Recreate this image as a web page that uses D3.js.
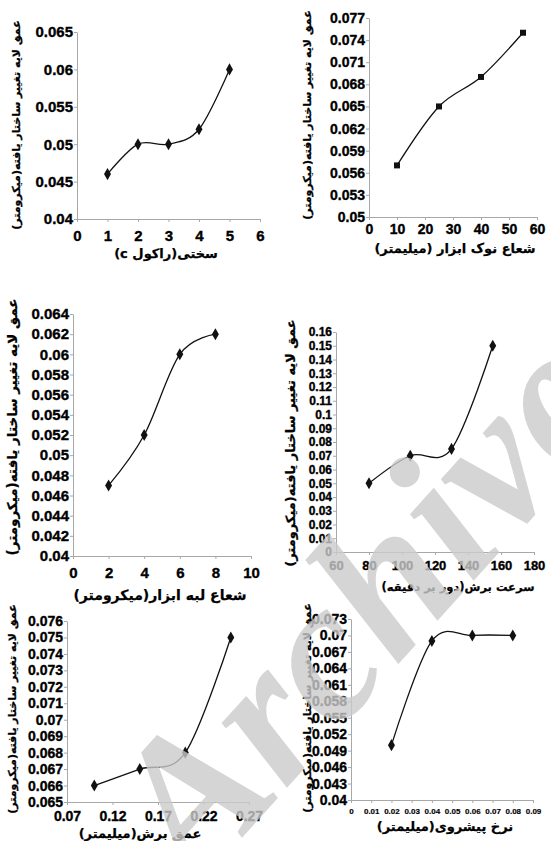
<!DOCTYPE html>
<html>
<head>
<meta charset="utf-8">
<script src="https://cdn.jsdelivr.net/npm/d3@7"></script>
<style>
  body { margin: 0; background: #fff; }
  svg { display: block; }
  .tick text { font-family: "Liberation Sans", Arial, sans-serif; font-weight: bold; fill: #000; stroke: #000; stroke-width: 0.35px; }
  .domain, .tick line { stroke: #a8a8a8; }
  .ttl { font-family: "DejaVu Sans", sans-serif; font-weight: bold; fill: #000; stroke: #000; stroke-width: 0.25px; }
</style>
</head>
<body>
<svg width="551" height="841"></svg>
<script>
// shared y title
const yTitle = "عمق لایه تغییر ساختار یافته(میکرومتر)"

// 1 - hardness
const hardness = [1, 2, 3, 4, 5]
const depthByHardness = [0.046, 0.05, 0.05, 0.052, 0.06]
const xTicks1 = [0, 1, 2, 3, 4, 5, 6]
const yTicks1 = [0.04, 0.045, 0.05, 0.055, 0.06, 0.065]

// 2 - tool nose radius
const noseRadius = [10, 25, 40, 55]
const depthByNose = [0.057, 0.065, 0.069, 0.075]
const xTicks2 = [0, 10, 20, 30, 40, 50, 60]
const yTicks2 = [0.05, 0.053, 0.056, 0.059, 0.062, 0.065, 0.068, 0.071, 0.074, 0.077]

// 3 - edge radius
const edgeRadius = [2, 4, 6, 8]
const depthByEdge = [0.047, 0.052, 0.06, 0.062]
const xTicks3 = [0, 2, 4, 6, 8, 10]
const yTicks3 = [0.04, 0.042, 0.044, 0.046, 0.048, 0.05, 0.052, 0.054, 0.056, 0.058, 0.06, 0.062, 0.064]

// 4 - cutting speed
const cutSpeed = [80, 105, 130, 155]
const depthBySpeed = [0.05, 0.07, 0.075, 0.15]
const xTicks4 = [60, 80, 100, 120, 140, 160, 180]
const yTicks4 = [0, 0.01, 0.02, 0.03, 0.04, 0.05, 0.06, 0.07, 0.08, 0.09, 0.1, 0.11, 0.12, 0.13, 0.14, 0.15, 0.16]

// 5 - depth of cut
const cutDepth = [0.1, 0.15, 0.2, 0.25]
const depthByCut = [0.066, 0.067, 0.068, 0.075]
const xTicks5 = [0.07, 0.12, 0.17, 0.22, 0.27]
const yTicks5 = [0.065, 0.066, 0.067, 0.068, 0.069, 0.07, 0.071, 0.072, 0.073, 0.074, 0.075, 0.076]

// 6 - feed rate
const feedRate = [0.02, 0.04, 0.06, 0.08]
const depthByFeed = [0.05, 0.069, 0.07, 0.07]
const xTicks6 = [0, 0.01, 0.02, 0.03, 0.04, 0.05, 0.06, 0.07, 0.08, 0.09]
const yTicks6 = [0.04, 0.043, 0.046, 0.049, 0.052, 0.055, 0.058, 0.061, 0.064, 0.067, 0.07, 0.073]

const xTitles = [
  "سختی(راکول c)",
  "شعاع نوک ابزار (میلیمتر)",
  "شعاع لبه ابزار(میکرومتر)",
  "سرعت برش(دور بر دقیقه)",
  "عمق برش(میلیمتر)",
  "نرخ پیشروی(میلیمتر)"
]

const svg = d3.select("svg")

const panels = [
  { xs: hardness, ys: depthByHardness, xt: xTicks1, yt: yTicks1, box: [77, 260, 32, 219],
    yf: 15, xf: 15, xpad: 8, sym: d3.symbolDiamond, yt0: [16, 125, 11], xt0: [166, 258, 13] },
  { xs: noseRadius, ys: depthByNose, xt: xTicks2, yt: yTicks2, box: [369, 537, 18, 217],
    yf: 14, xf: 14, xpad: 4, sym: d3.symbolSquare, yt0: [307, 115, 11], xt0: [455, 253, 13] },
  { xs: edgeRadius, ys: depthByEdge, xt: xTicks3, yt: yTicks3, box: [73, 251, 314, 556],
    yf: 15, xf: 15, xpad: 8, sym: d3.symbolDiamond, yt0: [12, 427, 13.5], xt0: [160, 600, 14] },
  { xs: cutSpeed, ys: depthBySpeed, xt: xTicks4, yt: yTicks4, box: [336, 534, 332, 552],
    yf: 12, xf: 13, xpad: 6, sym: d3.symbolDiamond, yt0: [290, 443, 13], xt0: [458, 591, 11.5] },
  { xs: cutDepth, ys: depthByCut, xt: xTicks5, yt: yTicks5, box: [67, 249, 621, 802],
    yf: 14, xf: 14, xpad: 6, sym: d3.symbolDiamond, yt0: [12, 709, 11], xt0: [140, 838, 13] },
  { xs: feedRate, ys: depthByFeed, xt: xTicks6, yt: yTicks6, box: [351, 533, 619, 800],
    yf: 14, xf: 8, xpad: 5, sym: d3.symbolDiamond, yt0: [307, 708, 11], xt0: [445, 831, 13] }
]

panels.forEach((p, i) => {
  const [l, r, t, b] = p.box
  const x = d3.scaleLinear().domain(d3.extent(p.xt)).range([l, r])
  const y = d3.scaleLinear().domain(d3.extent(p.yt)).range([b, t])

  const g = svg.append("g").attr("class", "panel")

  const ax = g.append("g")
    .attr("transform", `translate(0, ${b})`)
    .call(d3.axisBottom(x).tickValues(p.xt).tickFormat(d => String(d))
      .tickSizeInner(3).tickSizeOuter(0).tickPadding(p.xpad))
  ax.selectAll(".tick text").style("font-size", p.xf + "px")
    .style("stroke-width", p.xf < 10 ? "0.15px" : null)

  const ay = g.append("g")
    .attr("transform", `translate(${l}, 0)`)
    .call(d3.axisLeft(y).tickValues(p.yt).tickFormat(d => String(d))
      .tickSizeInner(3).tickSizeOuter(0).tickPadding(1))
  ay.selectAll(".tick text").style("font-size", p.yf + "px")

  const pts = p.xs.map((v, k) => [x(v), y(p.ys[k])])

  g.append("path")
    .attr("d", d3.line().curve(d3.curveCardinal.tension(0))(pts))
    .attr("fill", "none")
    .attr("stroke", "#111")
    .attr("stroke-width", 1.3)

  g.selectAll("path.pt")
    .data(pts)
    .enter()
    .append("path")
    .attr("class", "pt")
    .attr("transform", d => `translate(${d[0]}, ${d[1]})`)
    .attr("d", d3.symbol().type(p.sym).size(p.sym === d3.symbolSquare ? 36 : 42))
    .attr("fill", "#111")

  g.append("text")
    .attr("class", "ttl")
    .attr("direction", "rtl")
    .attr("text-anchor", "middle")
    .attr("dominant-baseline", "central")
    .attr("transform", `translate(${p.yt0[0]}, ${p.yt0[1]}) rotate(-90)`)
    .style("font-size", p.yt0[2] + "px")
    .text(yTitle)

  g.append("text")
    .attr("class", "ttl")
    .attr("direction", "rtl")
    .attr("text-anchor", "middle")
    .attr("x", p.xt0[0])
    .attr("y", p.xt0[1])
    .style("font-size", p.xt0[2] + "px")
    .text(xTitles[i])
})

// watermark
svg.append("text")
  .attr("transform", "translate(195, 890) rotate(-48)")
  .attr("font-family", "Liberation Serif, serif")
  .attr("font-weight", "bold")
  .attr("font-style", "italic")
  .attr("font-size", 200)
  .attr("fill", "#cbcbcb")
  .attr("opacity", 0.8)
  .text("Archive")
</script>
</body>
</html>
